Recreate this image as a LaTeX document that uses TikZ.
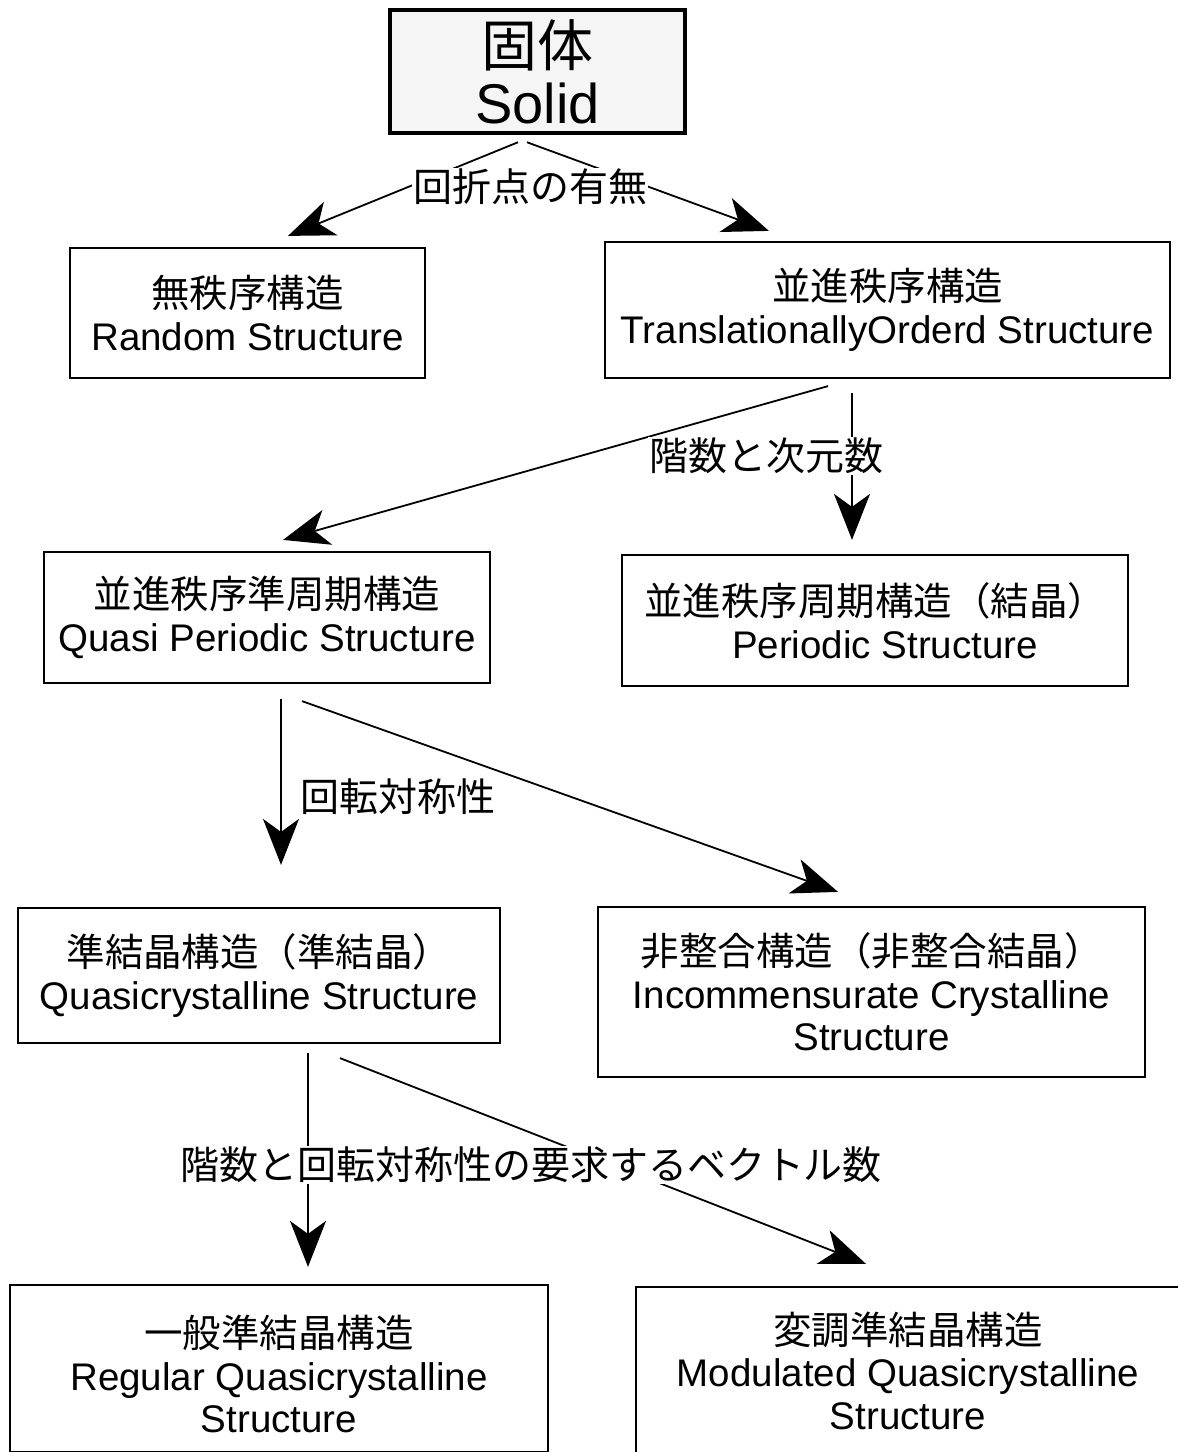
\documentclass[tikz,border=0pt]{standalone}
\usepackage{fontspec}
\setmainfont{Liberation Sans}
\newfontfamily\jp{Noto Sans CJK JP}
\usetikzlibrary{arrows.meta,calc}
\begin{document}
\begin{tikzpicture}[x=1pt,y=-1pt,
  box/.style={draw, line width=2.2pt, align=center, inner sep=0pt,
    font=\fontsize{38.5}{42.5}\selectfont},
  lbl/.style={font=\jp\fontsize{39}{42}\selectfont, inner sep=1pt},
  lblw/.style={lbl, fill=white},
  arr/.style={line width=1.8pt, -{Stealth[length=46pt,width=36pt,inset=13pt]}}]
\useasboundingbox (0,0) rectangle (1178,1452);
\fill[white] (0,0) rectangle (1178,1452);

\node[box, minimum width=295pt, minimum height=123pt, line width=4.5pt, fill=black!4,
  font=\fontsize{56}{57}\selectfont] (solid) at (537.5,71.5) {{\jp 固体}\\Solid};

\node[box, minimum width=355pt, minimum height=130pt] (random) at (247.5,313)
  {{\jp 無秩序構造}\\Random Structure};
\node[box, minimum width=565pt, minimum height=136pt] (trans) at (887.5,310)
  {{\jp 並進秩序構造}\\TranslationallyOrderd Structure};

\node[box, minimum width=446pt, minimum height=131pt] (qp) at (267,617.5)
  {{\jp 並進秩序準周期構造}\\Quasi Periodic Structure};
\node[box, minimum width=506pt, minimum height=131pt] (per) at (875,620.5)
  {{\jp 並進秩序周期構造（結晶）}\\\hspace*{20pt}Periodic Structure};

\node[box, minimum width=482pt, minimum height=135pt] (qc) at (259,975.5)
  {{\jp 準結晶構造（準結晶）}\\Quasicrystalline Structure};
\node[box, minimum width=547pt, minimum height=170pt] (inc) at (871.5,992)
  {{\jp 非整合構造（非整合結晶）}\\Incommensurate Crystalline\\Structure};

\node[box, minimum width=538pt, minimum height=167pt] (reg) at (279,1368.5)
  {\rule{0pt}{44pt}{\jp 一般準結晶構造}\\Regular Quasicrystalline\\Structure};
\node[box, minimum width=544pt, minimum height=175pt] (mod) at (908,1374.5)
  {{\jp 変調準結晶構造}\\Modulated Quasicrystalline\\Structure\rule[-8pt]{0pt}{8pt}};

% connectors
\draw[arr] ([shift={(-19.5,7)}]solid.south) -- ([shift={(40.5,-11)}]random.north);
\draw[arr] ([shift={(-10.5,7)}]solid.south) -- ([shift={(165,-10)}]trans.north west);

\draw[arr] ([shift={(-59.5,7)}]trans.south) -- ([shift={(16,-11)}]qp.north);
\draw[arr] ([shift={(-35.5,14)}]trans.south) -- ([shift={(-23,-14)}]per.north);

\draw[arr] ([shift={(14,15)}]qp.south) -- ([shift={(22,-42)}]qc.north);
\draw[arr] ([shift={(35,17)}]qp.south) -- ([shift={(-33.5,-14)}]inc.north);

\draw[arr] ([shift={(49,9)}]qc.south) -- ([shift={(29,-17)}]reg.north);
\draw[arr] ([shift={(81,14)}]qc.south) -- ([shift={(-42,-22)}]mod.north);

% labels
\node[lblw] (l1) at (530,187) {回折点の有無};
\node[lblw] (l2) at (766,456) {階数と次元数};
\node[lbl] (l3) at (398,797) {回転対称性};
\node[lblw] (l4) at (531,1165) {階数と回転対称性の要求するベクトル数};
\end{tikzpicture}
\end{document}
